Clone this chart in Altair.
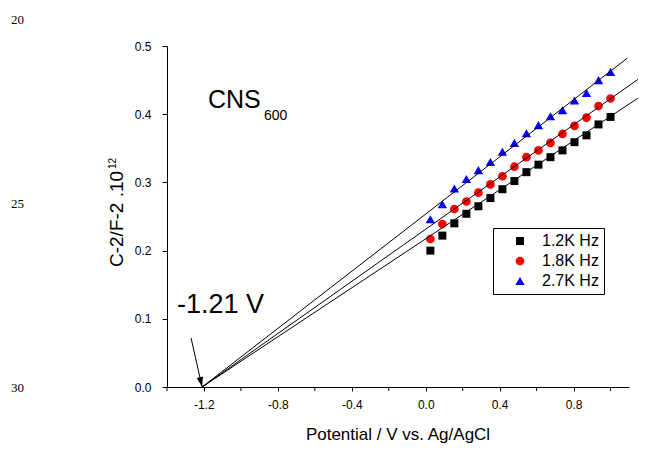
import altair as alt
import pandas as pd

# ---- data ----
potential = [0.025, 0.09, 0.155, 0.22, 0.285, 0.35, 0.415, 0.48,
             0.545, 0.61, 0.675, 0.74, 0.805, 0.87, 0.935, 1.0]
series_names = ["1.2K Hz", "1.8K Hz", "2.7K Hz"]
c_1_2k = [0.200, 0.222, 0.240, 0.254, 0.265, 0.277, 0.290, 0.302,
          0.315, 0.326, 0.337, 0.347, 0.359, 0.369, 0.385, 0.396]
c_1_8k = [0.217, 0.239, 0.261, 0.272, 0.285, 0.297, 0.309, 0.323,
          0.337, 0.347, 0.358, 0.371, 0.383, 0.395, 0.412, 0.423]
c_2_7k = [0.246, 0.268, 0.291, 0.305, 0.318, 0.330, 0.345, 0.358,
          0.372, 0.384, 0.397, 0.406, 0.420, 0.431, 0.450, 0.462]

# linear fits: all converge at the flat-band potential
fit_start_x = -1.21
fit_end_x = [1.19, 1.19, 1.09]
fit_end_y = [0.431, 0.459, 0.482]

arrow_x = [-1.27, -1.21]
arrow_y = [0.072, 0.0]

x_major = [-1.2, -0.8, -0.4, 0.0, 0.4, 0.8]
x_minor = [-1.4, -1.0, -0.6, -0.2, 0.2, 0.6, 1.0]
y_ticks = [0.0, 0.05, 0.1, 0.15, 0.2, 0.25, 0.3, 0.35, 0.4, 0.45, 0.5]

colors = ["#000000", "#ff0000", "#0000ff"]
shapes = ["square", "circle", "triangle-up"]
sizes = [64, 88, 150]

FONT = "Liberation Sans"
W, H = 462, 341

# ---- tables ----
rows = []
for name, vals in zip(series_names, [c_1_2k, c_1_8k, c_2_7k]):
    for xv, yv in zip(potential, vals):
        rows.append({"x": xv, "y": yv, "series": name})
pts = pd.DataFrame(rows)

fit_rows = []
for name, ex, ey in zip(series_names, fit_end_x, fit_end_y):
    fit_rows.append({"x": fit_start_x, "y": 0.0, "series": name})
    fit_rows.append({"x": ex, "y": ey, "series": name})
fits = pd.DataFrame(fit_rows)

arrow = pd.DataFrame({"x": [arrow_x[0]], "y": [arrow_y[0]],
                      "x2": [arrow_x[1]], "y2": [arrow_y[1]]})
tip = pd.DataFrame({"x": [arrow_x[1]], "y": [arrow_y[1]]})
minor = pd.DataFrame({"x": x_minor})

xscale = alt.Scale(domain=[-1.4, 1.1], nice=False, zero=False)
yscale = alt.Scale(domain=[0, 0.5], nice=False)

x_axis = alt.Axis(values=x_major, title=None, grid=False, tickSize=4,
                  labelExpr="(datum.value < -0.01 ? '-' : '') + format(abs(datum.value), '.1f')",
                  labelPadding=8, labelFontSize=12, labelFont=FONT,
                  labelColor="#000", domainColor="#000", tickColor="#000",
                  labelFlush=False, labelOverlap=False)
y_axis = alt.Axis(values=y_ticks, title=None, grid=False, tickSize=5,
                  labelExpr="abs(round(datum.value*100)) % 10 == 0 ? format(datum.value, '.1f') : ''",
                  labelPadding=11, labelFontSize=12, labelFont=FONT,
                  labelColor="#000", domainColor="#000", tickColor="#000",
                  labelFlush=False, labelOverlap=False)

legend = alt.Legend(title=None)

points = alt.Chart(pts).mark_point(filled=True, opacity=1).encode(
    x=alt.X("x:Q", scale=xscale, axis=x_axis),
    y=alt.Y("y:Q", scale=yscale, axis=y_axis),
    color=alt.Color("series:N", scale=alt.Scale(domain=series_names, range=colors), legend=legend),
    shape=alt.Shape("series:N", scale=alt.Scale(domain=series_names, range=shapes), legend=legend),
    size=alt.Size("series:N", scale=alt.Scale(domain=series_names, range=sizes), legend=legend),
)

minor_ticks = alt.Chart(minor).mark_rule(color="#000", strokeWidth=1).encode(
    x=alt.X("x:Q", scale=xscale), y=alt.value(H), y2=alt.value(H + 4),
)

lines = alt.Chart(fits).mark_line(color="#000", strokeWidth=1).encode(
    x=alt.X("x:Q", scale=xscale),
    y=alt.Y("y:Q", scale=yscale),
    detail="series:N",
)

arrow_line = alt.Chart(arrow).mark_rule(color="#000", strokeWidth=1).encode(
    x=alt.X("x:Q", scale=xscale), y=alt.Y("y:Q", scale=yscale),
    x2="x2:Q", y2="y2:Q",
)
arrow_head = alt.Chart(tip).mark_point(
    shape="M0,0L-0.32,-1L0.32,-1Z", filled=True, color="#000", opacity=1,
    size=400, angle=347,
).encode(x=alt.X("x:Q", scale=xscale), y=alt.Y("y:Q", scale=yscale))


def label(text, px, py, size, font=FONT, angle=0, align="left", baseline="alphabetic"):
    return alt.Chart(pd.DataFrame({"t": [text]})).mark_text(
        font=font, fontSize=size, color="#000", align=align,
        baseline=baseline, angle=angle,
    ).encode(text="t:N", x=alt.value(px), y=alt.value(py))


texts = [
    label("CNS", 41, 62, 25),
    label("600", 97, 74, 14),
    label("-1.21 V", 10, 267, 27),
    label("Potential / V vs. Ag/AgCl", 231, 394, 17, align="center"),
    label("C-2/F-2 .10", -50, 221, 19, angle=270, baseline="middle"),
    label("12", -54, 123, 10, angle=270, baseline="middle"),
    label("20", -156, -22, 13, font="Liberation Serif"),
    label("25", -156, 162, 13, font="Liberation Serif"),
    label("30", -156, 346, 13, font="Liberation Serif"),
]

chart = alt.layer(points, minor_ticks, lines, arrow_line, arrow_head, *texts).properties(
    width=W, height=H,
    autosize=alt.AutoSizeParams(type="none"),
    padding={"left": 159, "top": 38, "right": 9, "bottom": 58},
    background="white",
).configure_view(stroke=None).configure_legend(
    orient="none", legendX=326, legendY=182,
    strokeColor="#000", strokeWidth=1, padding=5,
    labelFont=FONT, labelFontSize=16, labelColor="#000",
    rowPadding=4, symbolOffset=14, labelOffset=14,
    symbolStrokeWidth=0, fillColor="white",
)

chart.save("out.html", embed_options={"renderer": "svg", "actions": False})
